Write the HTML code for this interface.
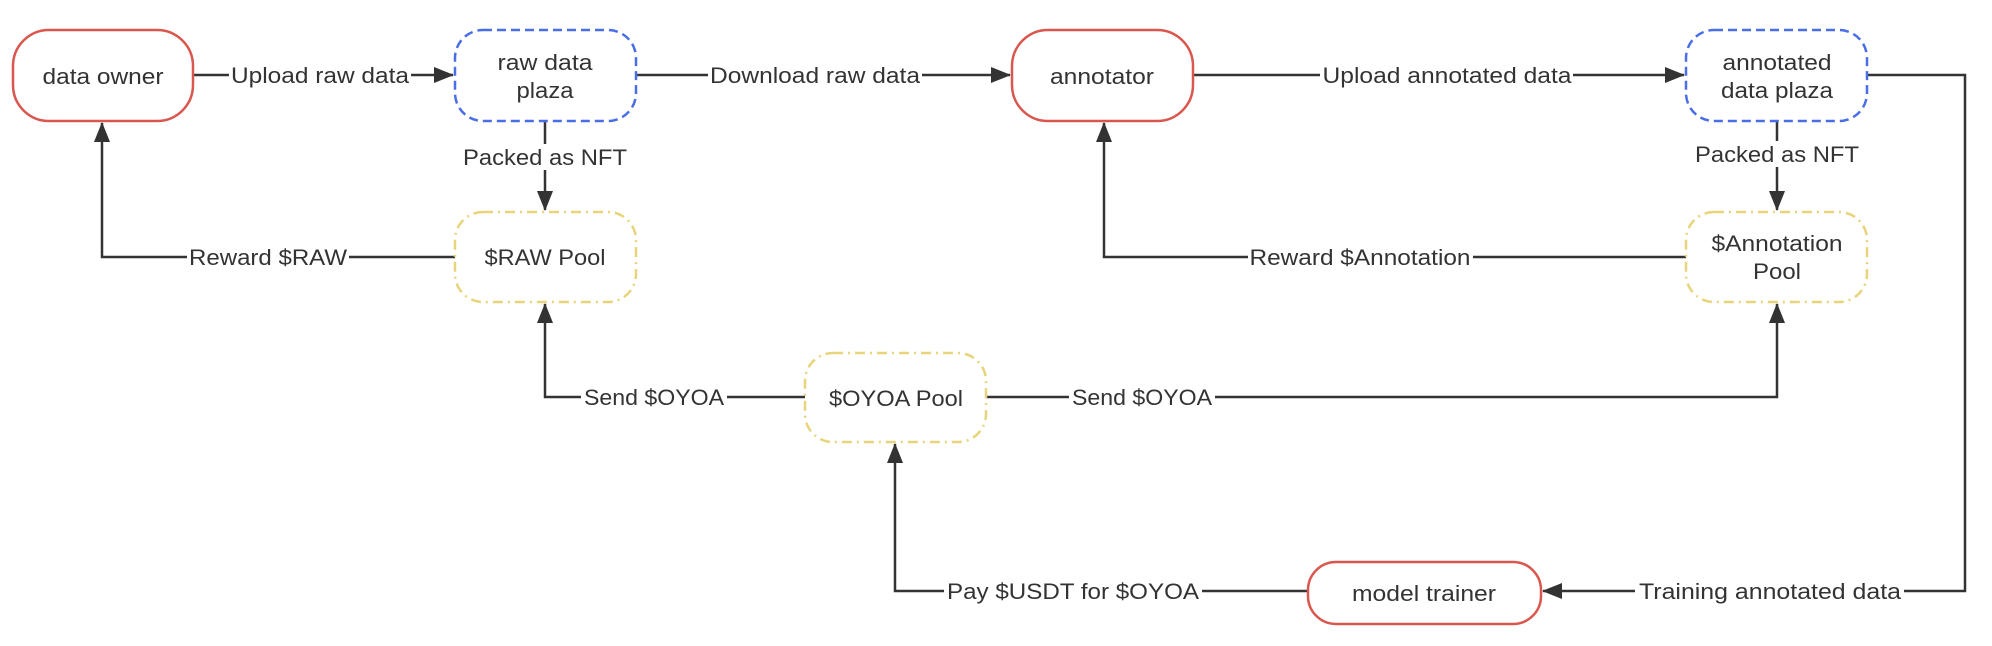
<!DOCTYPE html>
<html><head><meta charset="utf-8"><style>
html,body{margin:0;padding:0;background:#fff}
svg{display:block}
text{font-family:"Liberation Sans",sans-serif;font-size:22px;fill:#333}
</style></head><body>
<svg width="1992" height="646" viewBox="0 0 1992 646" xmlns="http://www.w3.org/2000/svg">
<defs>
<marker id="a" markerWidth="20" markerHeight="16" refX="19" refY="8" orient="auto" markerUnits="userSpaceOnUse">
<path d="M0,0 L20,8 L0,16 Z" fill="#333"/>
</marker>
</defs>
<g fill="none" stroke="#333" stroke-width="2.5">
<path d="M193,75 H453" marker-end="url(#a)"/>
<path d="M636,75 H1010" marker-end="url(#a)"/>
<path d="M1193,75 H1684" marker-end="url(#a)"/>
<path d="M545,121 V210" marker-end="url(#a)"/>
<path d="M1777,121 V210" marker-end="url(#a)"/>
<path d="M455,257 H102 V123" marker-end="url(#a)"/>
<path d="M1686,257 H1104 V123" marker-end="url(#a)"/>
<path d="M805,397 H545 V304" marker-end="url(#a)"/>
<path d="M986,397 H1777 V304" marker-end="url(#a)"/>
<path d="M1308,591 H895 V444" marker-end="url(#a)"/>
<path d="M1866,75 H1965 V591 H1543" marker-end="url(#a)"/>
</g>
<g fill="#fff">
<rect x="229" y="62" width="182" height="26"/>
<rect x="708" y="62" width="214" height="26"/>
<rect x="1320" y="62" width="253" height="26"/>
<rect x="460" y="144" width="170" height="26"/>
<rect x="1692" y="141" width="170" height="26"/>
<rect x="187" y="244" width="162" height="26"/>
<rect x="1248" y="244" width="225" height="26"/>
<rect x="581" y="384" width="146" height="26"/>
<rect x="1069" y="384" width="146" height="26"/>
<rect x="944" y="578" width="258" height="26"/>
<rect x="1635" y="578" width="269" height="26"/>
</g>
<g text-anchor="middle" lengthAdjust="spacingAndGlyphs">
<text x="320" y="83" textLength="178" lengthAdjust="spacingAndGlyphs">Upload raw data</text>
<text x="815" y="83" textLength="210" lengthAdjust="spacingAndGlyphs">Download raw data</text>
<text x="1447" y="83" textLength="249" lengthAdjust="spacingAndGlyphs">Upload annotated data</text>
<text x="545" y="165" textLength="164" lengthAdjust="spacingAndGlyphs">Packed as NFT</text>
<text x="1777" y="162" textLength="164" lengthAdjust="spacingAndGlyphs">Packed as NFT</text>
<text x="268" y="265" textLength="158" lengthAdjust="spacingAndGlyphs">Reward $RAW</text>
<text x="1360" y="265" textLength="221" lengthAdjust="spacingAndGlyphs">Reward $Annotation</text>
<text x="654" y="405" textLength="140" lengthAdjust="spacingAndGlyphs">Send $OYOA</text>
<text x="1142" y="405" textLength="140" lengthAdjust="spacingAndGlyphs">Send $OYOA</text>
<text x="1073" y="599" textLength="252" lengthAdjust="spacingAndGlyphs">Pay $USDT for $OYOA</text>
<text x="1770" y="599" textLength="262" lengthAdjust="spacingAndGlyphs">Training annotated data</text>
</g>
<g fill="#fff" stroke-width="2.5">
<rect x="13" y="30" width="180" height="91" rx="36" stroke="#d9574f"/>
<rect x="1012" y="30" width="181" height="91" rx="36" stroke="#d9574f"/>
<rect x="1308" y="562" width="233" height="62" rx="28" stroke="#d9574f"/>
<rect x="455" y="30" width="181" height="91" rx="28" stroke="#4a6ee6" stroke-dasharray="9,5"/>
<rect x="1686" y="30" width="181" height="91" rx="28" stroke="#4a6ee6" stroke-dasharray="9,5"/>
<rect x="455" y="212" width="181" height="90" rx="28" stroke="#e8d47a" stroke-dasharray="10,5,2,5"/>
<rect x="1686" y="212" width="181" height="90" rx="28" stroke="#e8d47a" stroke-dasharray="10,5,2,5"/>
<rect x="805" y="353" width="181" height="89" rx="28" stroke="#e8d47a" stroke-dasharray="10,5,2,5"/>
</g>
<g text-anchor="middle">
<text x="103" y="84" textLength="121" lengthAdjust="spacingAndGlyphs">data owner</text>
<text x="545" y="70" textLength="95" lengthAdjust="spacingAndGlyphs">raw data</text>
<text x="545" y="98" textLength="57" lengthAdjust="spacingAndGlyphs">plaza</text>
<text x="1102" y="84" textLength="104" lengthAdjust="spacingAndGlyphs">annotator</text>
<text x="1777" y="70" textLength="109" lengthAdjust="spacingAndGlyphs">annotated</text>
<text x="1777" y="98" textLength="112" lengthAdjust="spacingAndGlyphs">data plaza</text>
<text x="545" y="265" textLength="121" lengthAdjust="spacingAndGlyphs">$RAW Pool</text>
<text x="1777" y="251" textLength="131" lengthAdjust="spacingAndGlyphs">$Annotation</text>
<text x="1777" y="279" textLength="48" lengthAdjust="spacingAndGlyphs">Pool</text>
<text x="896" y="406" textLength="134" lengthAdjust="spacingAndGlyphs">$OYOA Pool</text>
<text x="1424" y="601" textLength="144" lengthAdjust="spacingAndGlyphs">model trainer</text>
</g>
</svg>
</body></html>
